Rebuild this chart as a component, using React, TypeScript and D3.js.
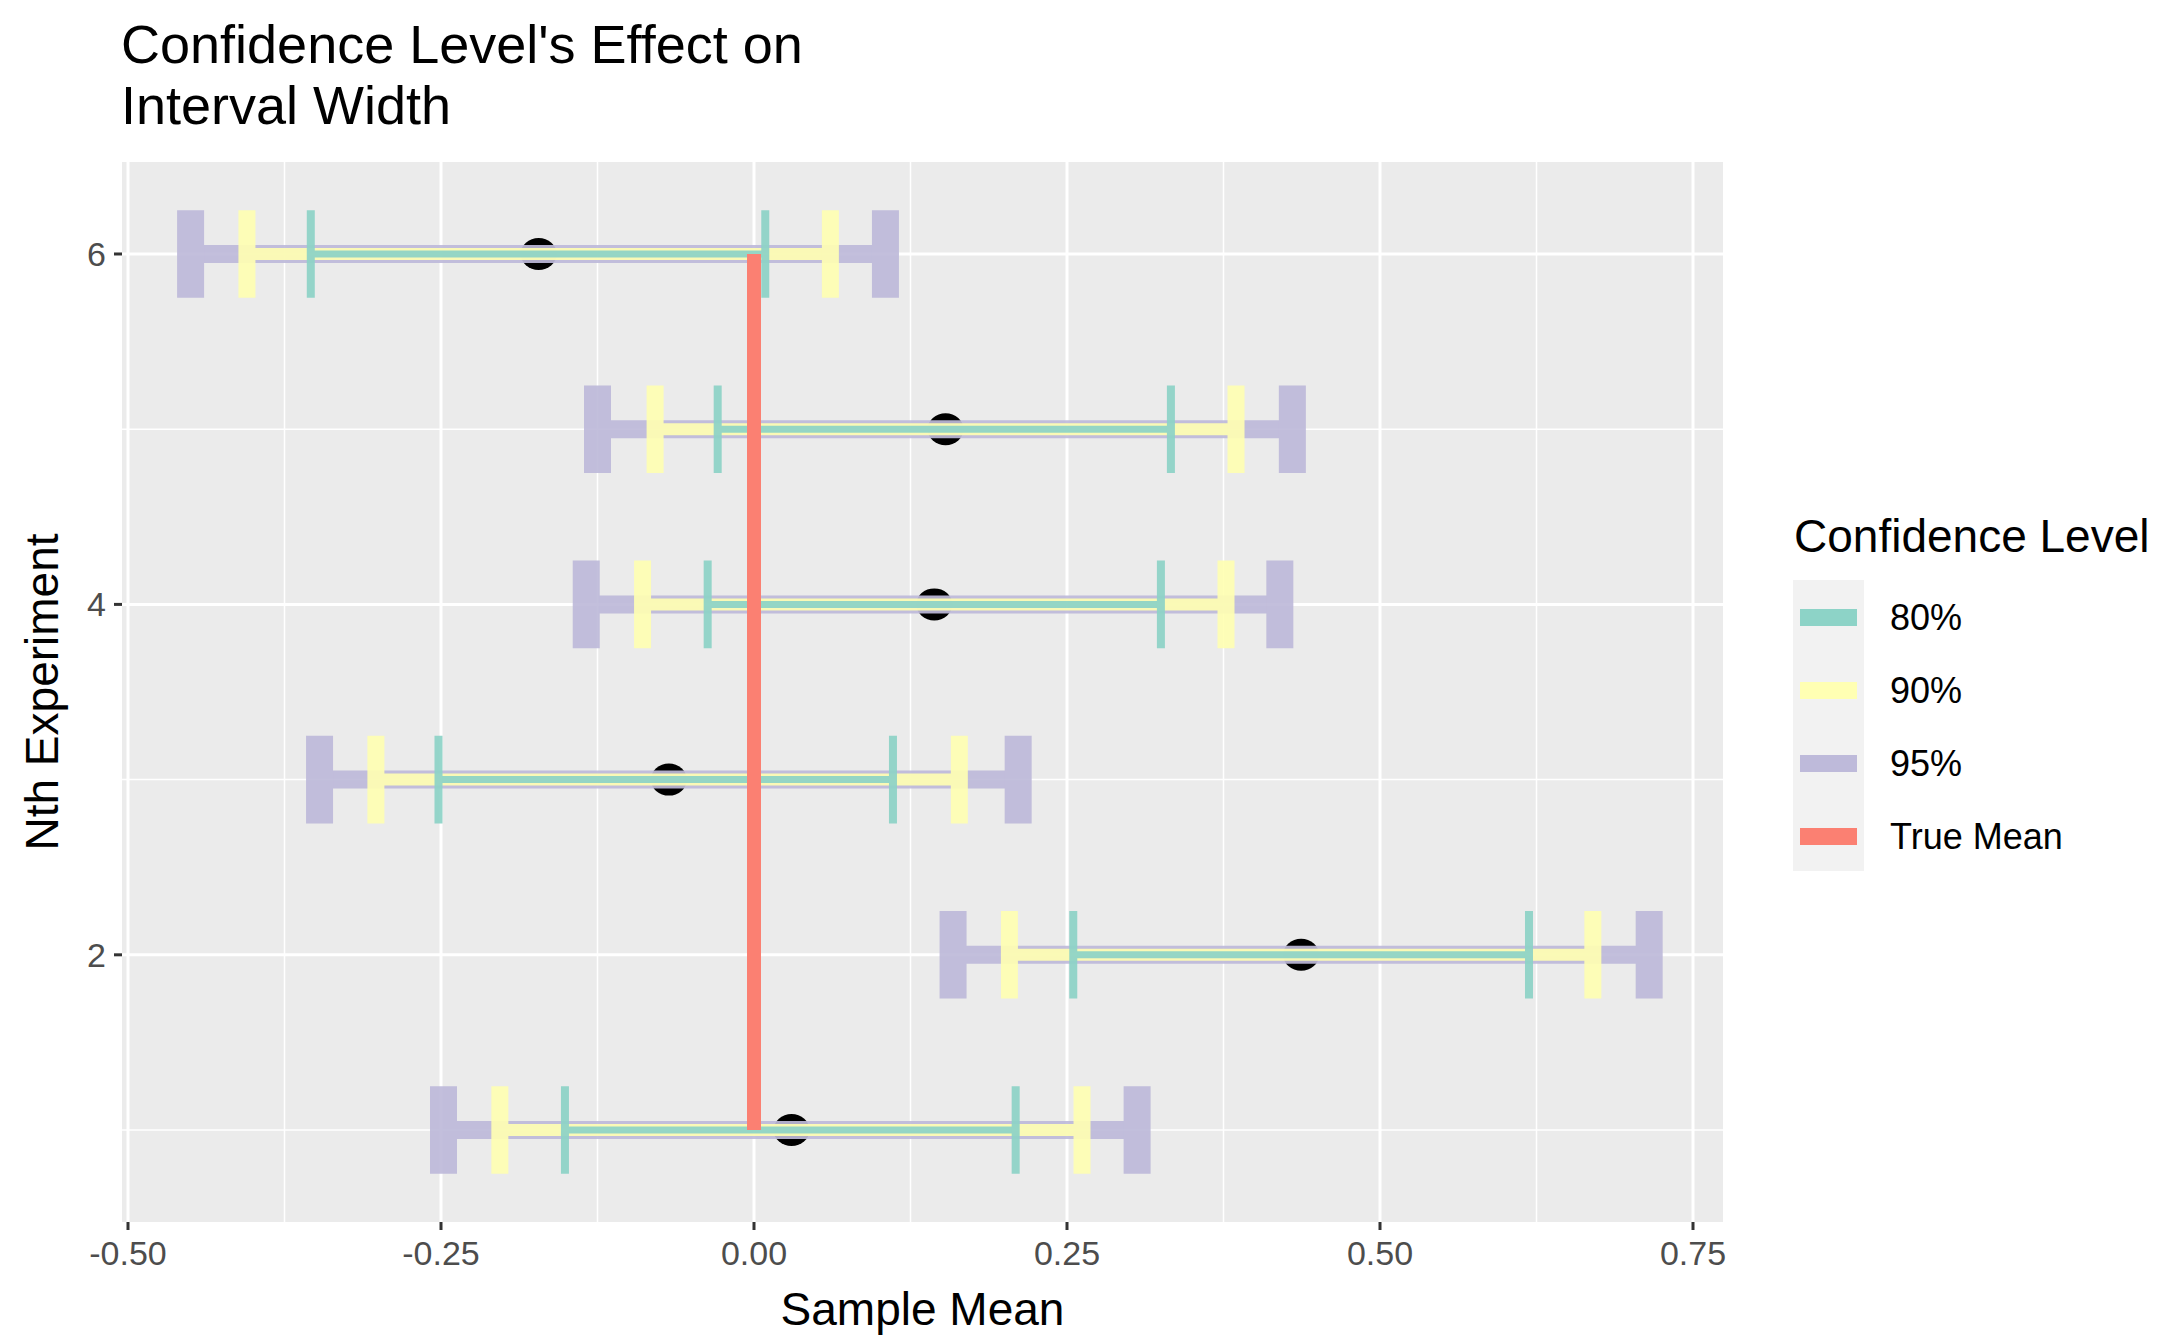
import React from 'react';
import * as d3 from 'd3';

const experiments = [1, 2, 3, 4, 5, 6];
const sampleMeans = [0.03, 0.437, -0.068, 0.144, 0.153, -0.172];
const lower80 = [-0.151, 0.255, -0.252, -0.037, -0.029, -0.354];
const upper80 = [0.209, 0.619, 0.111, 0.325, 0.333, 0.009];
const lower90 = [-0.203, 0.204, -0.302, -0.089, -0.079, -0.405];
const upper90 = [0.262, 0.67, 0.164, 0.377, 0.385, 0.061];
const lower95 = [-0.248, 0.159, -0.347, -0.134, -0.125, -0.45];
const upper95 = [0.306, 0.715, 0.211, 0.42, 0.43, 0.105];
const trueMean = 0;
const xTicks = [-0.5, -0.25, 0, 0.25, 0.5, 0.75];
const yTicks = [2, 4, 6];
const legendLabels = ['80%', '90%', '95%', 'True Mean'];
const legendColors = ['#8DD3C7', '#FFFFB3', '#BEBADA', '#FB8072'];

const W = 2178, H = 1343;
const P = { left: 122, right: 1723, top: 162, bottom: 1222 };

export default function App() {
  const x = d3.scaleLinear().domain([-0.5, 0.75]).range([128, 1693]);
  const y = d3.scaleLinear().domain([0.475, 6.525]).range([P.bottom, P.top]);
  const xMinor = xTicks.slice(0, -1).map((t) => t + 0.125);
  const yMinor = [1, 3, 5];
  const font = 'Arial, "Liberation Sans", sans-serif';
  const capHalf = y(0) - y(0.25);
  const fmt = (t: number) => d3.format('.2f')(t).replace('\u2212', '-');

  const bars = [
    { lo: lower95, hi: upper95, color: '#BEBADA', line: 18, cap: 27 },
    { lo: lower90, hi: upper90, color: '#FFFFB3', line: 12, cap: 17 },
    { lo: lower80, hi: upper80, color: '#8DD3C7', line: 7, cap: 8 },
  ];

  return (
    <svg width={W} height={H} style={{ display: 'block', margin: -8 }} fontFamily={font}>
      <rect width={W} height={H} fill="white" />
      <text x={121} y={63} fontSize={54}>Confidence Level's Effect on</text>
      <text x={121} y={124} fontSize={54}>Interval Width</text>
      <rect x={P.left} y={P.top} width={P.right - P.left} height={P.bottom - P.top} fill="#EBEBEB" />
      {xMinor.map((t) => (
        <line key={'xm' + t} x1={x(t)} x2={x(t)} y1={P.top} y2={P.bottom} stroke="white" strokeWidth={1.5} />
      ))}
      {yMinor.map((t) => (
        <line key={'ym' + t} x1={P.left} x2={P.right} y1={y(t)} y2={y(t)} stroke="white" strokeWidth={1.5} />
      ))}
      {xTicks.map((t) => (
        <line key={'xg' + t} x1={x(t)} x2={x(t)} y1={P.top} y2={P.bottom} stroke="white" strokeWidth={3} />
      ))}
      {yTicks.map((t) => (
        <line key={'yg' + t} x1={P.left} x2={P.right} y1={y(t)} y2={y(t)} stroke="white" strokeWidth={3} />
      ))}
      {experiments.map((e, i) => (
        <ellipse key={'pt' + e} cx={x(sampleMeans[i])} cy={y(e)} rx={18} ry={16} fill="black" />
      ))}
      {bars.map((b, bi) =>
        experiments.map((e, i) => (
          <g key={`b${bi}-${e}`} opacity={0.92}>
            <line x1={x(b.lo[i])} x2={x(b.hi[i])} y1={y(e)} y2={y(e)} stroke={b.color} strokeWidth={b.line} />
            <line x1={x(b.lo[i])} x2={x(b.lo[i])} y1={y(e) - capHalf} y2={y(e) + capHalf} stroke={b.color} strokeWidth={b.cap} />
            <line x1={x(b.hi[i])} x2={x(b.hi[i])} y1={y(e) - capHalf} y2={y(e) + capHalf} stroke={b.color} strokeWidth={b.cap} />
          </g>
        ))
      )}
      <line x1={x(trueMean)} x2={x(trueMean)} y1={y(1)} y2={y(6)} stroke="#FB8072" strokeWidth={14} />
      {xTicks.map((t) => (
        <g key={'xt' + t}>
          <line x1={x(t)} x2={x(t)} y1={P.bottom} y2={P.bottom + 8} stroke="#333" strokeWidth={3} />
          <text x={x(t)} y={P.bottom + 43} fontSize={34} fill="#4D4D4D" textAnchor="middle">{fmt(t)}</text>
        </g>
      ))}
      {yTicks.map((t) => (
        <g key={'yt' + t}>
          <line x1={P.left - 8} x2={P.left} y1={y(t)} y2={y(t)} stroke="#333" strokeWidth={3} />
          <text x={P.left - 16} y={y(t) + 12} fontSize={34} fill="#4D4D4D" textAnchor="end">{t}</text>
        </g>
      ))}
      <text x={(P.left + P.right) / 2} y={1325} fontSize={46} textAnchor="middle">Sample Mean</text>
      <text transform={`translate(58,${(P.top + P.bottom) / 2}) rotate(-90)`} fontSize={46} textAnchor="middle">
        Nth Experiment
      </text>
      <text x={1794} y={552} fontSize={46}>Confidence Level</text>
      <rect x={1793} y={580} width={71} height={291} fill="#F2F2F2" />
      {legendLabels.map((l, i) => (
        <g key={l}>
          <rect x={1800} y={617 + i * 73 - 8} width={57} height={17} fill={legendColors[i]} />
          <text x={1890} y={617 + i * 73 + 13} fontSize={36}>{l}</text>
        </g>
      ))}
    </svg>
  );
}
